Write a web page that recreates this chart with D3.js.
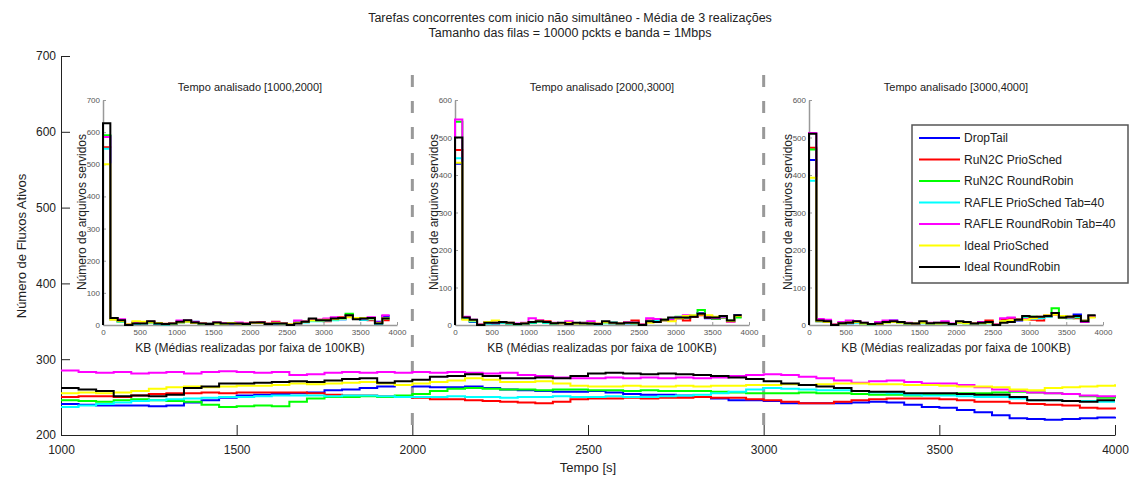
<!DOCTYPE html>
<html>
<head>
<meta charset="utf-8">
<script src="https://cdn.jsdelivr.net/npm/d3@7"></script>
<style>
  body { margin: 0; background: #fff; }
  svg { font-family: "Liberation Sans", Arial, sans-serif; }
  .inset .tick text { fill: #555; font-size: 8px; }
  .inset .domain, .inset .tick line { stroke: #999; }
</style>
</head>
<body>
<svg width="1137" height="477"></svg>
<script>
// series names + colours (same order everywhere)
var seriesNames = ["DropTail", "RuN2C PrioSched", "RuN2C RoundRobin", "RAFLE PrioSched Tab=40",
    "RAFLE RoundRobin Tab=40", "Ideal PrioSched", "Ideal RoundRobin"];
var seriesColors = ["#0000ff", "#ff0000", "#00ff00", "#00ffff", "#ff00ff", "#ffff00", "#000000"];

// main chart: time axis, one value every 50 s from 1000 to 4000
var tempo = d3.range(1000, 4001, 50);
var blueFlows = [241,240,239,239,239,238,239,243,246,249,252,253,254,255,256,259,260,262,264,266,264,263,263,264,262,260,259,258,257,257,258,256,254,253,253,252,250,248,246,246,245,242,242,242,242,243,244,243,240,237,236,233,230,226,222,221,220,221,222,223,224];
var redFlows = [250,251,251,250,252,254,255,255,256,255,256,256,256,256,255,253,252,252,251,250,249,247,247,246,245,244,243,242,244,247,248,248,249,248,249,249,250,249,249,247,246,244,242,242,244,246,247,248,248,248,247,246,244,244,242,241,240,239,236,235,234];
var greenFlows = [246,245,244,246,247,246,245,244,240,237,238,239,238,244,248,250,250,251,250,252,254,258,261,262,261,260,260,259,260,260,259,259,258,259,258,258,258,257,256,255,255,255,256,255,255,254,253,253,252,253,254,255,255,256,257,256,255,254,251,249,248];
var cyanFlows = [237,239,241,243,245,246,247,248,249,250,250,251,252,252,252,251,252,252,251,250,250,250,251,250,250,249,250,250,251,250,250,251,250,250,251,252,253,255,257,260,262,261,260,259,259,258,256,255,253,252,252,251,250,250,248,246,246,245,245,244,244];
var magentaFlows = [285,283,282,283,281,282,283,281,283,284,283,282,283,279,280,282,283,282,283,282,283,282,283,282,281,282,279,278,276,275,275,276,275,276,275,276,275,276,278,279,280,279,277,275,272,269,271,272,270,268,268,266,263,260,258,256,255,254,252,251,250];
var yellowFlows = [255,256,255,256,258,261,263,264,263,264,265,265,266,268,267,268,269,270,268,266,268,270,272,275,273,270,270,271,268,265,264,264,265,264,264,265,264,265,265,266,266,267,266,267,268,268,267,267,266,266,265,264,264,263,260,259,262,263,264,265,267];
var blackFlows = [262,260,258,251,252,251,253,262,264,268,268,269,270,271,270,272,274,275,269,271,273,277,278,280,278,275,275,276,275,278,281,282,281,280,281,280,279,278,276,274,271,268,266,264,262,258,257,257,255,255,255,254,253,253,250,246,246,245,244,246,246];
var mainSeries = [blueFlows, redFlows, greenFlows, cyanFlows, magentaFlows, yellowFlows, blackFlows];

var mainYTicks = [200, 300, 400, 500, 600, 700];
var mainXTicks = [1000, 1500, 2000, 2500, 3000, 3500, 4000];
var dividers = [2000, 3000];

// insets: files served per 100KB band (bin start in KB)
var kbBins = d3.range(0, 3900, 100);

var hist1Blue = [588,20,12,2,5,6,8,4,2,5,8,12,10,6,4,6,4,4,6,4,6,6,4,5,3,2,8,12,15,14,18,20,18,26,20,16,20,10,28];
var hist1Red = [553,18,14,2,8,6,10,6,3,6,9,12,8,6,4,7,5,6,4,5,7,9,5,10,6,2,6,10,14,16,12,22,24,25,20,18,15,6,15];
var hist1Green = [590,20,10,1,6,8,8,5,2,4,10,12,6,4,3,6,4,5,5,3,6,7,4,6,6,2,8,12,18,14,16,18,20,35,22,18,20,6,22];
var hist1Cyan = [548,18,10,1,4,5,7,4,2,4,8,10,6,4,5,5,3,4,4,2,6,6,3,5,4,1,6,8,12,12,14,15,18,28,20,16,18,4,20];
var hist1Magenta = [585,20,18,3,8,7,10,6,4,6,14,14,8,6,4,8,6,5,8,4,7,8,5,8,6,2,14,12,16,16,20,24,22,28,22,20,24,8,30];
var hist1Yellow = [500,16,12,2,12,10,8,6,4,5,8,10,6,5,4,5,4,6,4,2,7,6,4,6,5,2,6,10,14,14,16,18,20,24,22,22,20,6,20];
var hist1Black = [628,22,15,0,5,5,12,5,3,5,10,15,8,5,3,8,5,5,5,3,8,8,3,5,5,0,5,10,20,15,15,20,22,30,18,20,22,5,20];

var hist2Blue = [430,18,8,1,5,4,6,5,3,3,6,8,8,4,4,4,5,4,4,3,6,5,3,5,4,1,8,10,12,16,18,20,22,32,18,16,22,10,26];
var hist2Red = [467,16,12,2,8,6,6,4,2,4,8,12,10,5,4,6,4,4,5,3,7,6,5,8,12,2,12,14,14,12,18,12,22,26,20,18,20,10,22];
var hist2Green = [542,20,10,1,5,5,7,4,2,3,6,8,6,4,4,5,4,6,4,3,6,5,4,6,5,1,8,10,14,18,22,20,24,40,22,16,20,12,20];
var hist2Cyan = [445,16,10,1,4,5,6,4,2,3,7,9,6,4,3,5,4,4,5,2,5,8,3,5,4,1,10,12,12,16,20,22,26,30,22,20,22,10,24];
var hist2Magenta = [548,22,14,2,8,6,8,6,4,6,18,12,8,6,4,10,5,6,10,4,8,6,5,8,6,2,18,16,12,14,20,26,24,30,24,18,22,8,24];
var hist2Yellow = [433,14,12,1,8,12,8,6,3,4,8,10,8,5,4,6,4,4,5,4,7,6,4,6,5,1,6,8,12,10,18,24,26,28,26,22,24,10,24];
var hist2Black = [500,20,14,0,6,6,8,6,3,4,8,10,8,5,6,3,6,5,4,3,10,6,4,6,6,0,10,8,14,20,20,20,22,30,20,20,24,12,26];

var hist3Blue = [440,10,8,1,4,5,8,5,2,3,8,12,8,4,3,6,4,5,5,2,6,6,3,5,6,1,8,10,12,18,20,20,24,30,24,22,28,12,24];
var hist3Red = [473,14,12,2,6,8,8,5,3,6,8,10,6,5,4,6,5,4,6,3,8,6,4,6,12,2,16,18,16,18,14,12,22,28,20,22,18,8,22];
var hist3Green = [468,12,10,1,5,6,8,4,2,4,8,8,6,4,4,6,4,5,5,3,6,5,4,5,6,1,10,10,14,20,22,20,26,45,20,18,20,10,22];
var hist3Cyan = [385,10,8,1,4,5,6,4,2,3,6,8,6,4,4,5,4,4,5,2,6,5,3,5,5,1,8,10,14,18,16,18,22,30,22,20,22,8,22];
var hist3Magenta = [512,16,14,2,8,12,10,6,3,8,12,12,8,6,4,8,6,6,10,4,8,6,5,8,8,2,18,20,14,16,18,22,26,30,22,20,24,8,24];
var hist3Yellow = [393,10,8,1,4,6,8,4,2,3,6,8,6,4,4,6,4,4,5,2,6,5,4,5,6,1,10,12,14,14,18,22,26,28,24,22,24,12,20];
var hist3Black = [510,12,10,0,5,6,10,6,3,4,8,10,8,5,4,10,5,6,6,3,10,8,4,6,8,0,6,8,14,24,22,22,24,32,20,22,24,10,26];

var insets = [
    {title: "Tempo analisado [1000,2000]", yMax: 700, left: 103,
     series: [hist1Blue, hist1Red, hist1Green, hist1Cyan, hist1Magenta, hist1Yellow, hist1Black]},
    {title: "Tempo analisado [2000,3000]", yMax: 600, left: 455,
     series: [hist2Blue, hist2Red, hist2Green, hist2Cyan, hist2Magenta, hist2Yellow, hist2Black]},
    {title: "Tempo analisado [3000,4000]", yMax: 600, left: 809,
     series: [hist3Blue, hist3Red, hist3Green, hist3Cyan, hist3Magenta, hist3Yellow, hist3Black]}
];

var svg = d3.select("svg");

// ---- main axes ----
var x = d3.scaleLinear().domain([1000, 4000]).range([61, 1115]);
var y = d3.scaleLinear().domain([200, 700]).range([435, 56]);

svg.append("g")
    .attr("transform", "translate(0,435)")
    .call(d3.axisBottom(x).tickValues(mainXTicks).tickFormat(d3.format("d"))
        .tickSizeInner(-10).tickSizeOuter(0).tickPadding(10))
    .call(function(g) {
        g.selectAll("text").attr("font-size", 12).attr("fill", "#222");
        g.selectAll("line, .domain").attr("stroke", "#222");
    });

svg.append("g")
    .attr("transform", "translate(61,0)")
    .call(d3.axisLeft(y).tickValues(mainYTicks).tickSizeInner(-9).tickSizeOuter(0).tickPadding(5))
    .call(function(g) {
        g.selectAll("text").attr("font-size", 12).attr("fill", "#222");
        g.selectAll("line, .domain").attr("stroke", "#222");
    });

// dashed dividers
svg.selectAll(".divider")
    .data(dividers)
    .enter().append("line")
    .attr("class", "divider")
    .attr("x1", function(d) { return x(d); })
    .attr("x2", function(d) { return x(d); })
    .attr("y1", 75)
    .attr("y2", 435)
    .attr("stroke", "#999")
    .attr("stroke-width", 3)
    .attr("stroke-dasharray", "12,14");

// flow lines
var flowLine = d3.line()
    .x(function(d, i) { return x(tempo[i]); })
    .y(function(d) { return y(d); })
    .curve(d3.curveStepAfter);

svg.append("g").selectAll("path")
    .data(mainSeries)
    .enter().append("path")
    .attr("d", flowLine)
    .attr("fill", "none")
    .attr("stroke", function(d, i) { return seriesColors[i]; })
    .attr("stroke-width", 2);

// titles
svg.append("text").attr("x", 570).attr("y", 22).attr("text-anchor", "middle")
    .attr("font-size", 12.5).attr("fill", "#222")
    .text("Tarefas concorrentes com inicio não simultâneo - Média de 3 realizações");
svg.append("text").attr("x", 570).attr("y", 37).attr("text-anchor", "middle")
    .attr("font-size", 12.5).attr("fill", "#222")
    .text("Tamanho das filas = 10000 pckts e banda = 1Mbps");

svg.append("text")
    .attr("transform", "translate(26,246) rotate(-90)")
    .attr("text-anchor", "middle").attr("font-size", 13).attr("fill", "#222")
    .text("Número de Fluxos Ativos");
svg.append("text").attr("x", 588).attr("y", 472).attr("text-anchor", "middle")
    .attr("font-size", 13).attr("fill", "#222")
    .text("Tempo [s]");

// ---- insets ----
insets.forEach(function(ins) {
    var ix = d3.scaleLinear().domain([0, 4000]).range([ins.left, ins.left + 294]);
    var iy = d3.scaleLinear().domain([0, ins.yMax]).range([325, 100]);
    var g = svg.append("g").attr("class", "inset");

    g.append("g").attr("transform", "translate(0,325)")
        .call(d3.axisBottom(ix).tickValues(d3.range(0, 4001, 500)).tickFormat(d3.format("d"))
            .tickSizeInner(-3).tickSizeOuter(0).tickPadding(4));
    g.append("g").attr("transform", "translate(" + ins.left + ",0)")
        .call(d3.axisLeft(iy).tickValues(d3.range(0, ins.yMax + 1, 100)).tickFormat(d3.format("d"))
            .tickSizeInner(-3).tickSizeOuter(0).tickPadding(3));
    g.selectAll(".domain").attr("stroke-width", 1.5);

    var stairs = d3.line()
        .x(function(d) { return ix(d[0]); })
        .y(function(d) { return iy(d[1]); })
        .curve(d3.curveStepAfter);

    g.append("g").selectAll("path")
        .data(ins.series)
        .enter().append("path")
        .attr("d", function(vals) {
            var pts = [[0, 0]];
            vals.forEach(function(v, i) { pts.push([kbBins[i], v]); });
            pts.push([3900, vals[vals.length - 1]]);
            return stairs(pts);
        })
        .attr("fill", "none")
        .attr("stroke", function(d, i) { return seriesColors[i]; })
        .attr("stroke-width", 2);

    var cx = ins.left + 147;
    g.append("text").attr("x", cx).attr("y", 91).attr("text-anchor", "middle")
        .attr("font-size", 11).attr("fill", "#222").text(ins.title);
    g.append("text").attr("x", cx).attr("y", 352).attr("text-anchor", "middle")
        .attr("font-size", 12).attr("fill", "#222").text("KB (Médias realizadas por faixa de 100KB)");
    g.append("text")
        .attr("transform", "translate(" + (ins.left - 17) + ",212) rotate(-90)")
        .attr("text-anchor", "middle").attr("font-size", 12).attr("fill", "#222")
        .text("Número de arquivos servidos");
});

// ---- legend ----
var legend = svg.append("g").attr("transform", "translate(912,125)");
legend.append("rect").attr("width", 216).attr("height", 158)
    .attr("fill", "#fff").attr("stroke", "#555").attr("stroke-width", 1.5);
var rows = legend.selectAll(".row")
    .data(seriesNames)
    .enter().append("g")
    .attr("transform", function(d, i) { return "translate(0," + (13 + i * 21.5) + ")"; });
rows.append("line").attr("x1", 7).attr("x2", 48)
    .attr("stroke", function(d, i) { return seriesColors[i]; })
    .attr("stroke-width", 2);
rows.append("text").attr("x", 52).attr("dy", "0.35em")
    .attr("font-size", 12).attr("fill", "#222")
    .text(function(d) { return d; });
</script>
</body>
</html>
